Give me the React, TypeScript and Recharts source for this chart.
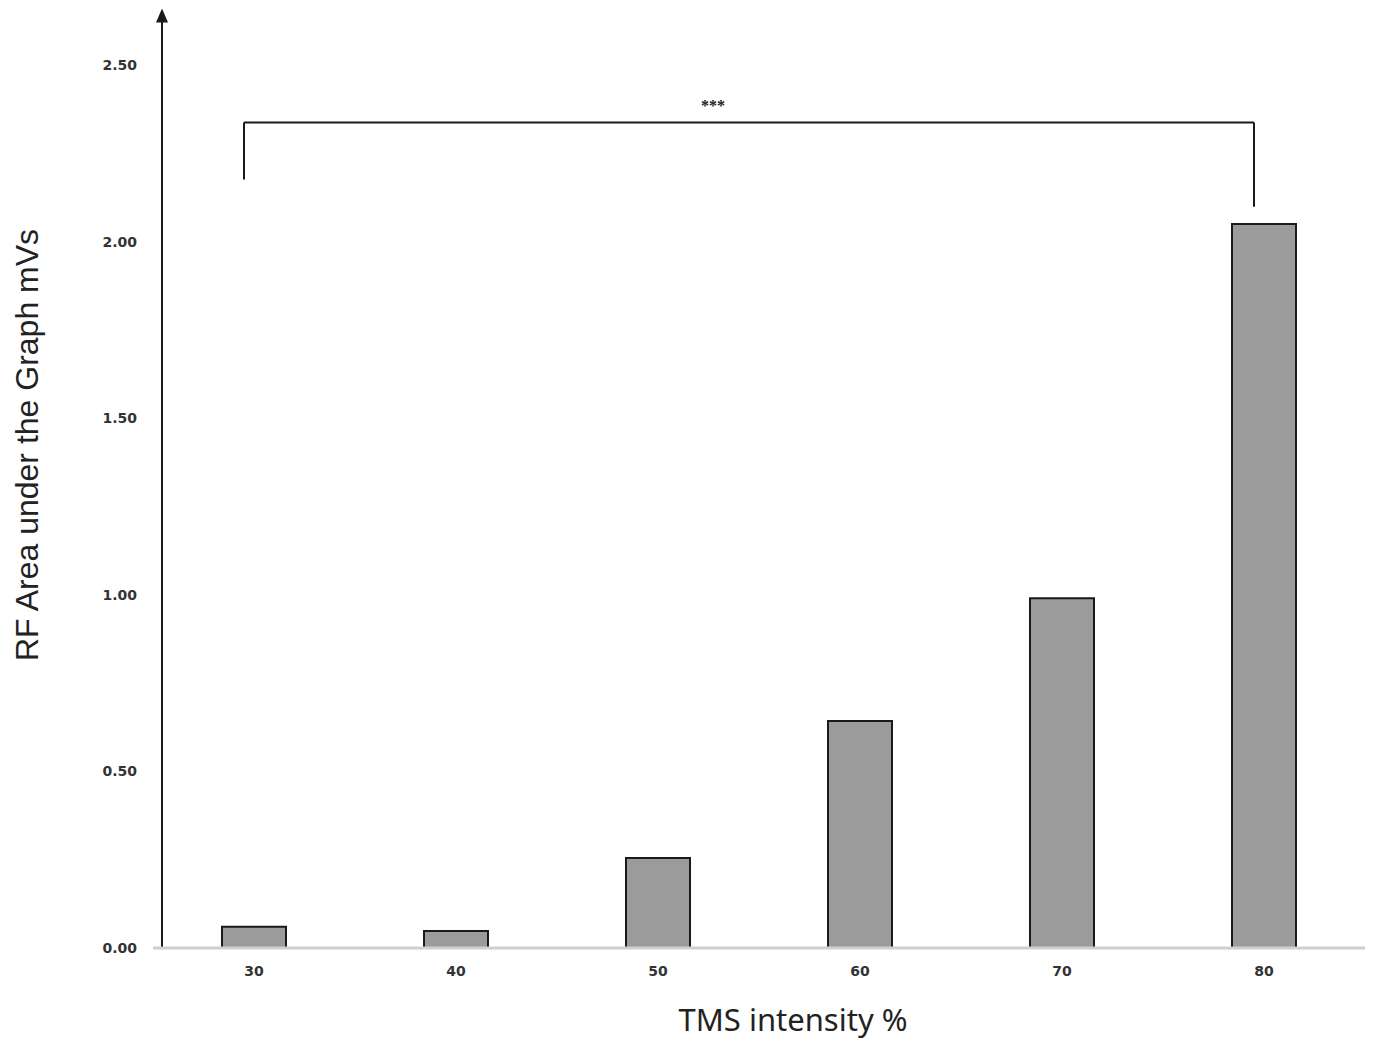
import React from "react";
import { Bar, BarChart, XAxis, YAxis, ReferenceLine, Label } from "recharts";

const intensities = ["30", "40", "50", "60", "70", "80"];
const rfArea = [0.06, 0.048, 0.255, 0.643, 0.99, 2.05];
const yTicks = [0, 0.5, 1, 1.5, 2, 2.5];

const data = intensities.map((c, i) => ({ intensity: c, area: rfArea[i] }));

// significance bracket between 30 and 80
const bracketY = 2.337;
const bracketLeftBottom = 2.176;
const bracketRightBottom = 2.099;

const LINE = "#1a1a1a";

// shifts a reference line sideways by a few pixels
const shifted = (dx: number) => (props: any) => {
  const { x1, y1, x2, y2 } = props;
  return <line x1={x1 + dx} y1={y1} x2={x2 + dx} y2={y2} stroke={LINE} strokeWidth={2} />;
};

function ArrowAxis(props: any) {
  const { x1, y1, y2 } = props;
  const x = x1 + 9;
  const top = Math.min(y1, y2);
  const bottom = Math.max(y1, y2);
  return (
    <g>
      <line x1={x} y1={bottom} x2={x} y2={top + 8} stroke={LINE} strokeWidth={2} />
      <polygon points={`${x - 6},${top + 14} ${x + 6},${top + 14} ${x},${top}`} fill={LINE} />
    </g>
  );
}

export default function App() {
  return (
    <div style={{ position: "absolute", left: 0, top: 0, background: "#fff" }}>
      <BarChart
        width={1381}
        height={1043}
        data={data}
        margin={{ top: 65, right: 16, bottom: 0, left: 0 }}
      >
        <XAxis
          dataKey="intensity"
          axisLine={{ stroke: "#cfcfcf", strokeWidth: 3 }}
          tickLine={false}
          tickSize={0}
          tickMargin={18}
          height={95}
          tick={{ fontSize: 14, fontWeight: 600, fill: "#333", fontFamily: "DejaVu Sans" }}
        >
          <Label
            value="TMS intensity %"
            position="insideBottom"
            offset={12}
            dx={34}
            style={{ fontSize: 31, fill: "#222", fontFamily: "Noto Sans" }}
          />
        </XAxis>
        <YAxis
          domain={[0, 2.5]}
          ticks={yTicks}
          width={153}
          axisLine={false}
          tickLine={false}
          tickSize={0}
          tickMargin={16}
          tickFormatter={(v: number) => v.toFixed(2)}
          tick={{ fontSize: 14, fontWeight: 600, fill: "#333", fontFamily: "DejaVu Sans" }}
        >
          <Label
            content={() => (
              <text
                x={27}
                y={445}
                transform="rotate(-90, 27, 445)"
                textAnchor="middle"
                dominantBaseline="central"
                style={{ fontSize: 32, fill: "#222", fontFamily: "Liberation Sans" }}
              >
                RF Area under the Graph mVs
              </text>
            )}
          />
        </YAxis>
        <Bar
          dataKey="area"
          barSize={64}
          fill="#9b9b9b"
          stroke={LINE}
          strokeWidth={2}
          isAnimationActive={false}
        />
        <ReferenceLine
          segment={[{ x: "30", y: 0 }, { x: "30", y: 2.66 }]}
          position="start"
          ifOverflow="visible"
          shape={ArrowAxis}
        />
        <ReferenceLine
          segment={[{ x: "30", y: bracketY }, { x: "80", y: bracketY }]}
          ifOverflow="visible"
          shape={shifted(-10)}
        >
          <Label value="***" position="top" offset={12} dx={-46} style={{ fontSize: 16, fontWeight: 700, fill: "#222" }} />
        </ReferenceLine>
        <ReferenceLine
          segment={[{ x: "30", y: bracketY }, { x: "30", y: bracketLeftBottom }]}
          ifOverflow="visible"
          shape={shifted(-10)}
        />
        <ReferenceLine
          segment={[{ x: "80", y: bracketY }, { x: "80", y: bracketRightBottom }]}
          ifOverflow="visible"
          shape={shifted(-10)}
        />
      </BarChart>
    </div>
  );
}
